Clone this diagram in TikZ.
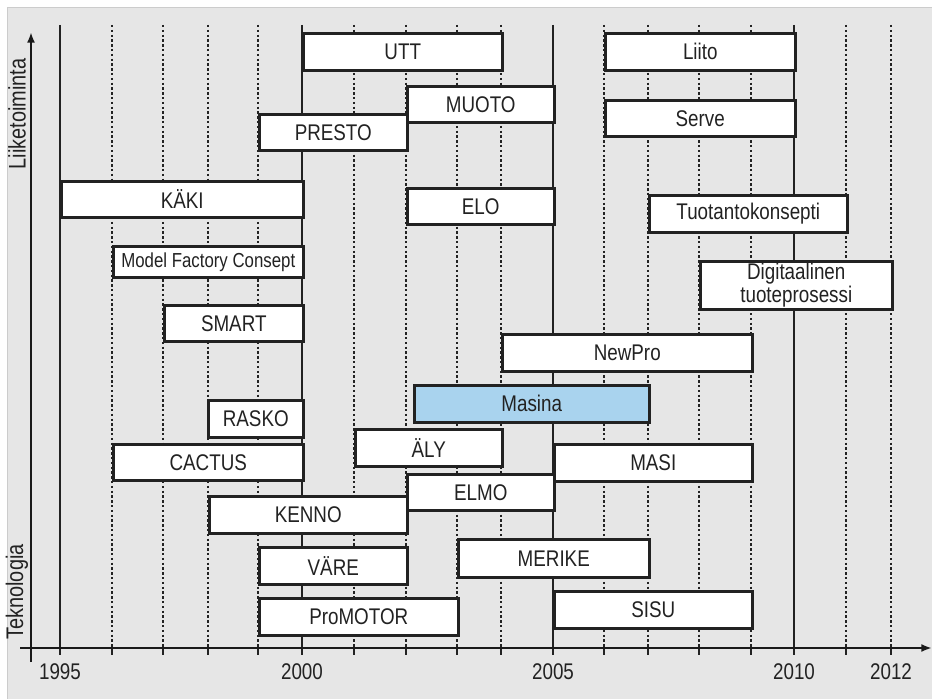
\documentclass[tikz,border=0pt]{standalone}
\usepackage{fontspec}
\setmainfont{Liberation Sans}[FakeStretch=0.83]
\usetikzlibrary{arrows.meta}
\definecolor{panel}{HTML}{E6E6E6}
\definecolor{ink}{HTML}{222222}
\definecolor{masina}{HTML}{A9D3EE}
\tikzset{
  box/.style={draw=ink, line width=1.9pt, fill=white, inner sep=0pt, text=ink,
    font=\fontsize{17}{17}\selectfont, align=center},
  gridsolid/.style={draw=ink, line width=1.1pt},
  griddash/.style={draw=ink, line width=1.1pt, dash pattern=on 1.8pt off 1.8pt},
  axisline/.style={draw=black!90, line width=1.8pt},
  yearlab/.style={text=ink, font=\fontsize{17}{17}\selectfont},
  axlab/.style={text=ink, font=\fontsize{18}{18}\selectfont, rotate=90},
}
\newcommand\proj[6]{\node[box, anchor=north west, minimum width={(#4-#2)*0.75pt}, minimum height={(#5-#3)*0.75pt}] (#1) at (#2,#3) {#6};}
\begin{document}
\begin{tikzpicture}[x=0.75pt, y=-0.75pt]
\useasboundingbox (0,0) rectangle (932,699);
\fill[white] (0,0) rectangle (932,699);
\draw[draw=black!20, fill=panel, line width=0.6pt] (7,7) rectangle (935,702);
% grid
\foreach \x in {60,302,553,794} {
  \draw[gridsolid] (\x,25) -- (\x,655);
}
\foreach \x in {112,163,208,258,354,406,457,501,604,648,699,751,846,891} {
  \draw[griddash] (\x,25) -- (\x,648);
  \draw[gridsolid] (\x,648) -- (\x,655);
}
% axes
\coordinate (xs) at (20,648);
\coordinate (xe) at (932,648);
\coordinate (ys) at (31,662);
\coordinate (ye) at (31,32);
\draw[axisline, -{Latex[length=8pt,width=6pt]}] (xs) -- (xe);
\draw[axisline, -{Latex[length=8pt,width=6pt]}] (ys) -- (ye);
% year labels
\node[yearlab] (y1995) at (60,672) {1995};
\node[yearlab] (y2000) at (302,672) {2000};
\node[yearlab] (y2005) at (553,672) {2005};
\node[yearlab] (y2010) at (794,672) {2010};
\node[yearlab] (y2012) at (891,672) {2012};
% axis labels
\node[axlab] (liike) at (17,114) {Liiketoiminta};
\node[axlab] (tekno) at (17,592) {Teknologia};
% projects
\proj{utt}{302}{32}{501}{69}{UTT}
\proj{liito}{604}{32}{794}{69}{Liito}
\proj{muoto}{406}{85}{553}{121}{MUOTO}
\proj{presto}{258}{113}{406}{149}{PRESTO}
\proj{serve}{604}{99}{794}{135}{Serve}
\proj{kaki}{60}{180}{302}{216}{KÄKI}
\proj{elo}{406}{187}{553}{223}{ELO}
\proj{tuot}{648}{194}{846}{231}{Tuotantokonsepti}
\node[box, anchor=north west, minimum width={(302-112)*0.75pt}, minimum height={(276-245)*0.75pt}, font=\fontsize{15.2}{15}\selectfont] (mfc) at (112,245) {Model Factory Consept};
\node[box, anchor=north west, minimum width={(891-699)*0.75pt}, minimum height={(308-260)*0.75pt}, font=\fontsize{17}{15.5}\selectfont] (digi) at (699,260) {Digitaalinen\\tuoteprosessi};
\proj{smart}{163}{304}{302}{340}{SMART}
\proj{newpro}{501}{333}{751}{370}{NewPro}
\node[box, fill=masina, anchor=north west, minimum width={(648-413)*0.75pt}, minimum height={(421-384)*0.75pt}] (masina) at (413,384) {Masina};
\proj{rasko}{207}{399}{302}{436}{RASKO}
\proj{aly}{354}{428}{501}{465}{ÄLY}
\proj{cactus}{112}{443}{302}{479}{CACTUS}
\proj{masi}{553}{443}{751}{480}{MASI}
\proj{elmo}{406}{473}{553}{509}{ELMO}
\proj{kenno}{208}{495}{406}{532}{KENNO}
\proj{merike}{457}{538}{648}{576}{MERIKE}
\proj{vare}{258}{546}{406}{583}{VÄRE}
\proj{sisu}{553}{590}{751}{627}{SISU}
\proj{promotor}{258}{597}{457}{634}{ProMOTOR}
\end{tikzpicture}
\end{document}
